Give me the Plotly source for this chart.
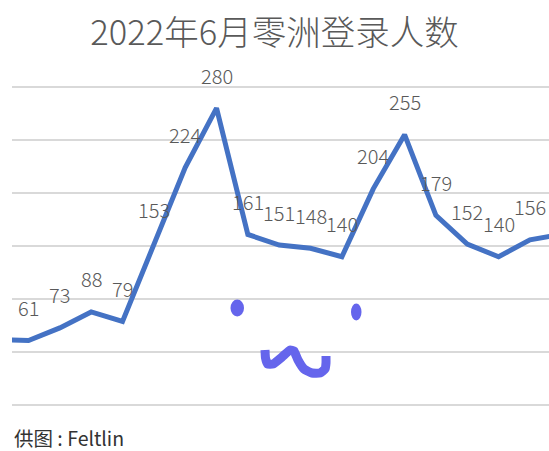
import plotly.graph_objects as go

# ---- data ----
days = list(range(0, 19))
logins = [62, 61, 73, 88, 79, 153, 224, 280, 161, 151, 148, 140, 204, 255, 179, 152, 140, 156, 161]
label_days = days[1:18]
label_vals = logins[1:18]

title_text = "2022年6月零洲登录人数"
footer_text = "供图 : Feltlin"
grid_vals = [0, 50, 100, 150, 200, 250, 300]

# doodle (pixel coordinates of the hand-drawn face, decorative)
doodle_x = [265, 265.5, 267.5, 273, 282, 290, 294, 298, 304, 312, 320, 325, 326, 326]
doodle_y = [350, 358, 364, 364, 357, 350, 351, 360, 369, 373, 373, 369, 363, 356]

W, H = 549, 451
ML, MR, MT, MB = 12, 0, 60, 36
FONT = "Noto Sans CJK SC, Noto Sans, sans-serif"
LINE_COLOR = "#4472C4"
DOODLE = "#6565EC"

fig = go.Figure()
fig.add_trace(go.Scatter(
    x=days, y=logins, mode="lines",
    line=dict(color=LINE_COLOR, width=5),
    hoverinfo="skip", showlegend=False,
))

for d, v in zip(label_days, label_vals):
    fig.add_annotation(
        x=d, y=v, text=str(v), showarrow=False,
        yshift=33, xanchor="center", yanchor="middle",
        font=dict(family=FONT, size=20, color="#595959", weight=300),
    )

# doodle on an overlay axis in pixel units
fig.add_trace(go.Scatter(
    x=doodle_x, y=doodle_y, mode="lines", xaxis="x2", yaxis="y2",
    line=dict(color=DOODLE, width=9, shape="spline", smoothing=0.4),
    hoverinfo="skip", showlegend=False,
))
fig.add_shape(type="circle", xref="x2", yref="y2",
              x0=230.5, x1=244, y0=299.5, y1=316.5,
              fillcolor=DOODLE, line=dict(width=0))
fig.add_shape(type="circle", xref="x2", yref="y2",
              x0=351, x1=361.5, y0=303.5, y1=320.5,
              fillcolor=DOODLE, line=dict(width=0))

fig.add_annotation(
    xref="paper", yref="paper", x=0, y=-(438 - (H - MB)) / (H - MT - MB),
    text=footer_text, showarrow=False, xanchor="left", yanchor="middle",
    font=dict(family=FONT, size=19.5, color="#333333"),
)

fig.update_layout(
    width=W, height=H,
    margin=dict(l=ML, r=MR, t=MT, b=MB),
    paper_bgcolor="white", plot_bgcolor="white",
    title=dict(text=title_text, x=0.5, xanchor="center",
               y=1 - 33 / H, yref="container", yanchor="middle",
               font=dict(family=FONT, size=34.5, color="#595959", weight=300)),
    xaxis=dict(range=[0.4735, 17.608], showgrid=False, zeroline=False,
               showticklabels=False, ticks="", showline=False, fixedrange=True),
    yaxis=dict(range=[-9.1, 325.4], tickvals=grid_vals, showgrid=True,
               gridcolor="#D9D9D9", gridwidth=2, zeroline=False,
               showticklabels=False, ticks="", showline=False, fixedrange=True),
    xaxis2=dict(range=[ML, W - MR], overlaying="x", visible=False, fixedrange=True),
    yaxis2=dict(range=[H - MB, MT], overlaying="y", visible=False, fixedrange=True),
    showlegend=False,
)

fig.write_html("out.html", config={"displayModeBar": False},
               post_script="document.body.style.margin='0';document.body.style.overflow='hidden';")
